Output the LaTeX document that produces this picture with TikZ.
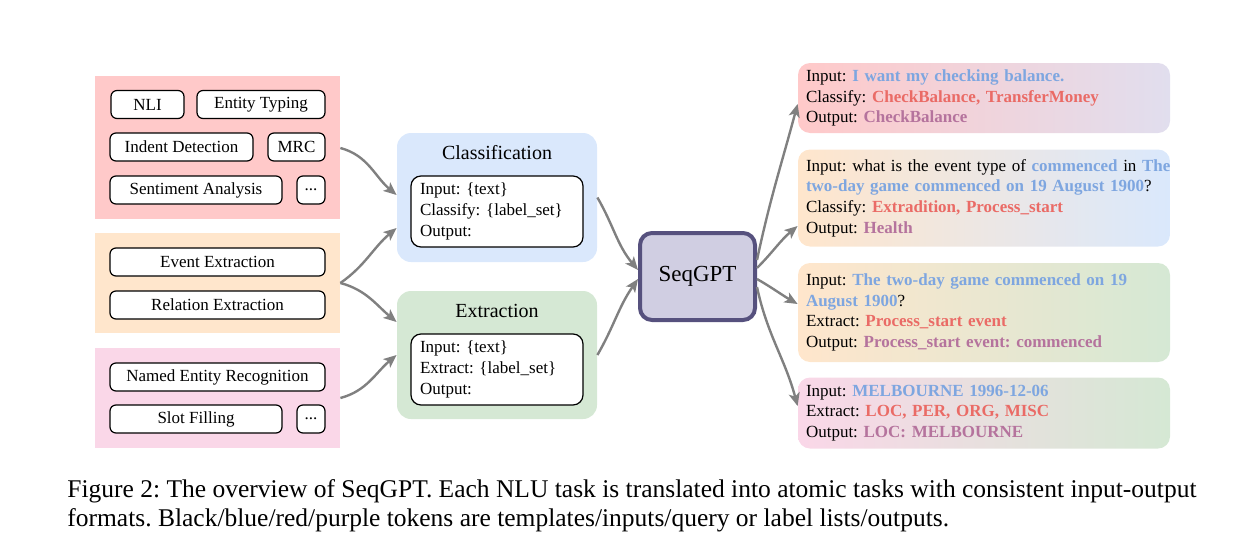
\documentclass[tikz,border=0pt]{standalone}
\usepackage{fontspec}
\setmainfont{Liberation Serif}
\usepackage{tikz}
\usetikzlibrary{shapes,arrows,arrows.meta,backgrounds,positioning}
\definecolor{grp_red}{HTML}{FFC9C9}
\definecolor{grp_orange}{HTML}{FFE6CC}
\definecolor{grp_pink}{HTML}{FAD7E8}
\definecolor{cls_blue}{HTML}{DAE8FC}
\definecolor{ext_green}{HTML}{D5E8D4}
\definecolor{seq_fill}{HTML}{D0CEE2}
\definecolor{seq_draw}{HTML}{56517E}
\definecolor{lav}{HTML}{E1DEEE}
\definecolor{arrgray}{HTML}{808080}
\definecolor{inblue}{HTML}{7EA6E0}
\definecolor{qred}{HTML}{EA6B66}
\definecolor{outpurple}{HTML}{B5739D}
\newcommand{\inp}[1]{\textcolor{inblue}{\textbf{#1}}}
\newcommand{\qry}[1]{\textcolor{qred}{\textbf{#1}}}
\newcommand{\outp}[1]{\textcolor{outpurple}{\textbf{#1}}}
\frenchspacing
\tikzset{
  grp/.style = {inner sep=0pt, minimum width=122.5pt},% task group background
  task/.style = {draw=black, fill=white, rounded corners=3pt, line width=0.6pt,
    minimum height=14pt, inner sep=0pt, font=\fontsize{8.5}{10}\selectfont},% single task
  cat_bg/.style = {rounded corners=7pt, minimum width=100pt, inner sep=0pt},% atomic task panel
  tmpl/.style = {draw=black, fill=white, rounded corners=5pt, line width=0.6pt,
    minimum width=86pt, minimum height=35.5pt, text width=77pt, align=left,
    inner sep=0pt, font=\fontsize{8.5}{10.5}\selectfont},% prompt template
  ex_box/.style = {rounded corners=6pt, minimum width=186pt, text width=178pt,
    inner xsep=4pt, inner ysep=0pt, align=left,
    font=\fontsize{8.5}{10.3}\selectfont},% example
  link/.style = {->, draw=arrgray, line width=1.2pt}
}
\begin{document}
\begin{tikzpicture}[x=0.5pt,y=-0.5pt,>={Stealth[length=6.5pt,width=5.5pt,inset=1.6pt]}]
  \useasboundingbox (0,0) rectangle (1247,557);
  % task groups
  \node [grp, fill=grp_red, minimum height=71.5pt] (G1) at (217.5,147.5) {};
  \node [grp, fill=grp_orange, minimum height=50pt] (G2) at (217.5,283) {};
  \node [grp, fill=grp_pink, minimum height=50pt] (G3) at (217.5,398) {};
  \node [task, minimum width=36.5pt] (nli) at (147.5,104.5) {NLI};
  \node [task, minimum width=64pt] (et) at (261,104.5) {Entity Typing};
  \node [task, minimum width=71.5pt] (id) at (181.5,147) {Indent Detection};
  \node [task, minimum width=28.5pt] (mrc) at (296.5,147) {MRC};
  \node [task, minimum width=86pt] (sa) at (196,190) {Sentiment Analysis};
  \node [task, minimum width=14pt] (d1) at (311,190) {...};
  \node [task, minimum width=107.5pt] (ee) at (217.5,262) {Event Extraction};
  \node [task, minimum width=107.5pt] (re) at (217.5,305) {Relation Extraction};
  \node [task, minimum width=107.5pt] (ner) at (217.5,377) {Named Entity Recognition};
  \node [task, minimum width=86pt] (sf) at (196,419) {Slot Filling};
  \node [task, minimum width=14pt] (d2) at (311,419) {...};
  % atomic tasks
  \node [cat_bg, fill=cls_blue, minimum height=64.5pt] (C) at (497,197.5) {};
  \node [font=\fontsize{10}{12}\selectfont] (Ct) at (497,153) {Classification};
  \node [tmpl] (Ci) at (497,211.5) {Input: \{text\}\\Classify: \{label\_set\}\\Output:};
  \node [cat_bg, fill=ext_green, minimum height=64pt] (E) at (497,355) {};
  \node [font=\fontsize{10}{12}\selectfont] (Et) at (497,311) {Extraction};
  \node [tmpl] (Ei) at (497,369.5) {Input: \{text\}\\Extract: \{label\_set\}\\Output:};
  \node [draw=seq_draw, fill=seq_fill, line width=2pt, rounded corners=6pt,
    minimum width=57.5pt, minimum height=43.5pt, font=\fontsize{11.5}{13}\selectfont]
    (S) at (697.5,276.5) {SeqGPT};
  % examples
  \node [ex_box, left color=grp_red, right color=lav, minimum height=35pt] (R1) at (984,98)
    {Input: \inp{I want my checking balance.}\\
     Classify: \qry{CheckBalance, TransferMoney}\\
     Output: \outp{CheckBalance}};
  \node [ex_box, left color=grp_orange, right color=cls_blue, minimum height=48.5pt] (R2) at (984,198)
    {\mbox{Input: what is the event type of \inp{commenced} in \inp{The}}\\
     \inp{two-day game commenced on 19 August 1900}?\\
     Classify: \qry{Extradition, Process\_start}\\
     Output: \outp{Health}};
  \node [ex_box, left color=grp_orange, right color=ext_green, minimum height=49.5pt] (R3) at (984,312.5)
    {Input: \inp{The two-day game commenced on 19}\\
     \inp{August 1900}?\\
     Extract: \qry{Process\_start event}\\
     Output: \outp{Process\_start event: commenced}};
  \node [ex_box, left color=grp_pink, right color=ext_green, minimum height=35.5pt] (R4) at (984,413)
    {Input: \inp{MELBOURNE 1996-12-06}\\
     Extract: \qry{LOC, PER, ORG, MISC}\\
     Output: \outp{LOC: MELBOURNE}};
  % links
  \draw [link] (G1.east |- 0,148) to[out=-15, in=140] (C.west |- 0,195);
  \draw [link] (G2.east) to[out=35, in=-140] (C.west |- 0,228);
  \draw [link] (G2.east) to[out=-15, in=140] (E.west |- 0,322);
  \draw [link] (G3.east) to[out=15, in=-140] (E.west |- 0,355);
  \draw [link] (C.east) to[out=-60, in=130] (S.west |- 0,270);
  \draw [link] (E.east) to[out=60, in=-125] (S.west |- 0,279);
  \draw [link] (S.east |- 0,260) to[out=78, in=-105] (R1.west |- 0,104);
  \draw [link] (S.east |- 0,268) to[out=45, in=-140] (R2.west |- 0,226);
  \draw [link] (S.east |- 0,279) to[out=-30, in=150] (R3.west |- 0,304);
  \draw [link] (S.east |- 0,287) to[out=-78, in=105] (R4.west |- 0,406);
  % caption
  \node [anchor=west, align=left, inner sep=0pt, font=\fontsize{12.75}{14.5}\selectfont] (cap) at (67,506)
    {Figure 2: The overview of SeqGPT. Each NLU task is translated into atomic tasks with consistent input-output\\
     formats. Black/blue/red/purple tokens are templates/inputs/query or label lists/outputs.};
\end{tikzpicture}
\end{document}
